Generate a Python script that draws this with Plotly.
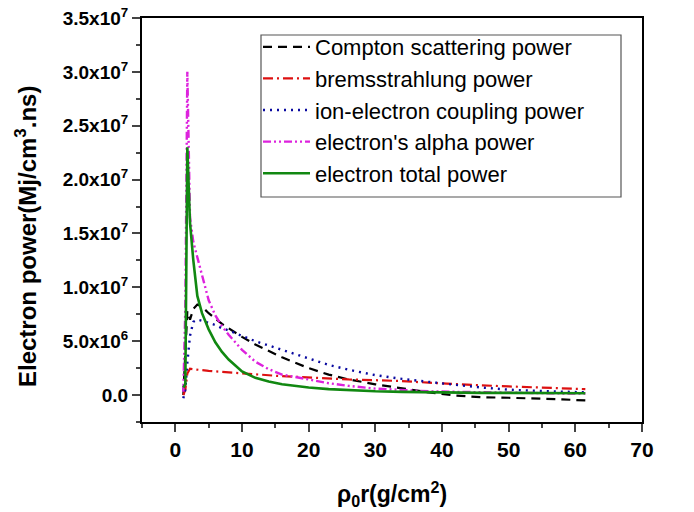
import plotly.graph_objects as go

x_vals = [1.2, 1.5, 1.8, 2.2, 2.7, 3.3, 4, 5, 6, 7, 8, 10, 12, 14, 16, 18, 20, 23, 26, 30, 34, 38, 42, 46, 50, 54, 58, 61.5]

compton = [0.0, 3.5e6, 7.8e6, 7.0e6, 8.0e6, 8.4e6, 8.2e6, 7.6e6, 7.1e6, 6.6e6, 6.2e6, 5.4e6, 4.7e6, 4.1e6, 3.5e6, 3.0e6, 2.5e6, 1.9e6, 1.45e6, 1.0e6, 0.6e6, 0.25e6, -0.05e6, -0.2e6, -0.25e6, -0.3e6, -0.4e6, -0.5e6]
brems = [0.0, 0.5e6, 2.0e6, 2.45e6, 2.4e6, 2.35e6, 2.3e6, 2.25e6, 2.2e6, 2.15e6, 2.1e6, 2.0e6, 1.9e6, 1.8e6, 1.75e6, 1.7e6, 1.62e6, 1.55e6, 1.45e6, 1.38e6, 1.3e6, 1.15e6, 1.0e6, 0.9e6, 0.8e6, 0.7e6, 0.62e6, 0.55e6]
coupling = [-0.3e6, 0.5e6, 3.0e6, 5.5e6, 6.8e6, 7.0e6, 6.9e6, 6.7e6, 6.5e6, 6.2e6, 6.0e6, 5.5e6, 5.0e6, 4.6e6, 4.2e6, 3.8e6, 3.35e6, 2.8e6, 2.35e6, 1.85e6, 1.5e6, 1.2e6, 0.95e6, 0.7e6, 0.5e6, 0.4e6, 0.3e6, 0.25e6]
alpha = [0.3e6, 8e6, 30e6, 16.5e6, 14.2e6, 12.8e6, 11e6, 8.8e6, 7.4e6, 6.4e6, 5.6e6, 4.2e6, 3.1e6, 2.4e6, 1.9e6, 1.65e6, 1.45e6, 1.1e6, 0.85e6, 0.6e6, 0.45e6, 0.35e6, 0.3e6, 0.25e6, 0.2e6, 0.2e6, 0.15e6, 0.15e6]
total = [0.7e6, 1.0e6, 23e6, 16e6, 12.5e6, 9.2e6, 7.6e6, 6.1e6, 4.9e6, 4.0e6, 3.3e6, 2.2e6, 1.6e6, 1.25e6, 1.0e6, 0.85e6, 0.7e6, 0.55e6, 0.45e6, 0.35e6, 0.3e6, 0.25e6, 0.22e6, 0.2e6, 0.2e6, 0.18e6, 0.17e6, 0.17e6]

series_names = ["Compton scattering power", "bremsstrahlung power", "ion-electron coupling power",
                "electron's alpha power", "electron total power"]

x_tickvals = [0, 10, 20, 30, 40, 50, 60, 70]
x_ticktext = ["0", "10", "20", "30", "40", "50", "60", "70"]
y_tickvals = [0, 5e6, 1e7, 1.5e7, 2e7, 2.5e7, 3e7, 3.5e7]
y_ticktext = ["0.0", "5.0x10<sup>6</sup>", "1.0x10<sup>7</sup>", "1.5x10<sup>7</sup>",
              "2.0x10<sup>7</sup>", "2.5x10<sup>7</sup>", "3.0x10<sup>7</sup>", "3.5x10<sup>7</sup>"]
y_title = "Electron power(Mj/cm<sup>3</sup>.ns)"
x_title = "ρ<sub>0</sub>r(g/cm<sup>2</sup>)"

styles = [
    dict(color="#000000", dash="9px,6px", width=2.2),
    dict(color="#dd1111", dash="10px,4px,2px,4px", width=2.2),
    dict(color="#0a0aa0", dash="2px,5px", width=2.4),
    dict(color="#dd22dd", dash="8px,3px,2px,3px,2px,3px", width=2.4),
    dict(color="#118811", dash="solid", width=2.6),
]
data = [compton, brems, coupling, alpha, total]

fig = go.Figure()
for name, y, st in zip(series_names, data, styles):
    fig.add_trace(go.Scatter(x=x_vals, y=y, mode="lines", name=name, line=st,
                             legendgroup=name))

font_family = "Liberation Sans, Arial, sans-serif"
L, R, T, B = 142, 642, 18, 422
W, H = 694, 512


def px_x(p):
    return (p - L) / (R - L)


def px_y(p):
    return 1 - (p - T) / (B - T)


fig.update_layout(
    width=W, height=H,
    margin=dict(l=L, r=W - R, t=T, b=H - B, autoexpand=False),
    paper_bgcolor="white", plot_bgcolor="white",
    font=dict(family=font_family, color="black"),
    showlegend=True,
    legend=dict(x=px_x(258), y=px_y(26), xanchor="left", yanchor="top",
                borderwidth=0, bgcolor="rgba(255,255,255,0)",
                font=dict(size=22, family=font_family), tracegroupgap=0,
                itemwidth=47),
    shapes=[dict(type="rect", xref="paper", yref="paper",
                 x0=px_x(261), x1=px_x(621), y0=px_y(197), y1=px_y(35),
                 line=dict(color="#555555", width=1.2), layer="above")],
    annotations=[dict(text=y_title, xref="paper", yref="paper", x=px_x(26), y=px_y(237),
                      textangle=-90, showarrow=False, xanchor="center", yanchor="middle",
                      font=dict(size=24, family=font_family, weight="bold"))],
    xaxis=dict(range=[-5, 70], tickvals=x_tickvals, ticktext=x_ticktext,
               ticks="outside", ticklen=8, tickwidth=2, showline=True, linewidth=2,
               linecolor="black", mirror=True, showgrid=False, zeroline=False, automargin=False,
               tickfont=dict(size=21, family=font_family, weight="bold"),
               minor=dict(dtick=5, ticks="outside", ticklen=4, tickwidth=2, tick0=0),
               title=dict(text=x_title,
                          font=dict(size=23, family=font_family, weight="bold"), standoff=26)),
    yaxis=dict(range=[-2.5e6, 3.5e7], tickvals=y_tickvals, ticktext=y_ticktext,
               ticks="outside", ticklen=8, tickwidth=2, showline=True, linewidth=2,
               linecolor="black", mirror=True, showgrid=False, zeroline=False, automargin=False,
               tickfont=dict(size=19, family=font_family, weight="bold"),
               minor=dict(dtick=2.5e6, ticks="outside", ticklen=4, tickwidth=2, tick0=0)),
)

fig.write_html("out.html", config={"displayModeBar": False},
               post_script="document.body.style.margin='0';")
